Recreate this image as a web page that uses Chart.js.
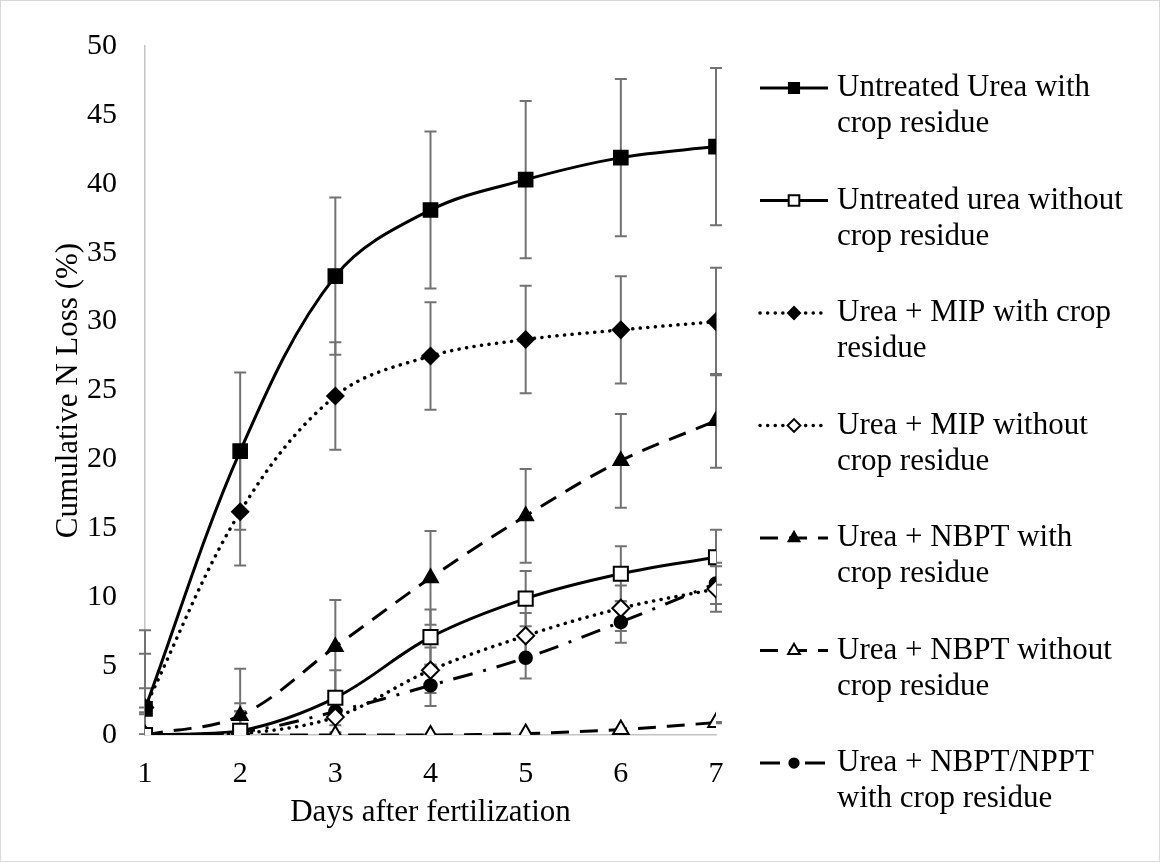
<!DOCTYPE html>
<html>
<head>
<meta charset="utf-8">
<script src="https://cdn.jsdelivr.net/npm/chart.js@4.4.1/dist/chart.umd.min.js"></script>
<style>
  html, body { margin: 0; padding: 0; background: #fff; }
  canvas { display: block; }
</style>
</head>
<body>
<canvas id="chart" width="1160" height="862"></canvas>
<script>
// days after fertilization
const days = [1, 2, 3, 4, 5, 6, 7];
const yTicks = [0, 5, 10, 15, 20, 25, 30, 35, 40, 45, 50];

// cumulative N loss (%)
const untreatedWith = [1.9, 20.6, 33.3, 38.1, 40.3, 41.9, 42.7];
const untreatedWithout = [0, 0.3, 2.7, 7.1, 9.9, 11.7, 12.9];
const mipWith = [2.0, 16.2, 24.6, 27.5, 28.7, 29.4, 30.0];
const mipWithout = [0, 0.1, 1.3, 4.7, 7.2, 9.2, 10.6];
const nbptWith = [0, 1.4, 6.4, 11.4, 15.9, 19.9, 22.8];
const nbptWithout = [0, 0, 0, 0, 0.1, 0.4, 0.9];
const nbptNpptWith = [0, 0.2, 1.7, 3.6, 5.6, 8.2, 11.0];

// error bar half-lengths
const untreatedWithErr = [5.7, 5.7, 5.7, 5.7, 5.7, 5.7, 5.7];
const untreatedWithoutErr = [2.0, 2.0, 2.0, 2.0, 2.0, 2.0, 2.0];
const mipWithErr = [3.9, 3.9, 3.9, 3.9, 3.9, 3.9, 3.9];
const mipWithoutErr = [1.65, 1.65, 1.65, 1.65, 1.65, 1.65, 1.65];
const nbptWithErr = [3.4, 3.4, 3.4, 3.4, 3.4, 3.4, 3.4];
const nbptWithoutErr = [0.05, 0.05, 0.05, 0.05, 0.05, 0.05, 0.05];
const nbptNpptWithErr = [1.5, 1.5, 1.5, 1.5, 1.5, 1.5, 1.5];

const legendLines = [
  ['Untreated Urea with', 'crop residue'],
  ['Untreated urea without', 'crop residue'],
  ['Urea + MIP with crop', 'residue'],
  ['Urea + MIP without', 'crop residue'],
  ['Urea + NBPT with', 'crop residue'],
  ['Urea + NBPT without', 'crop residue'],
  ['Urea + NBPT/NPPT', 'with crop residue']
];

const serif = '"Liberation Serif", "Times New Roman", serif';
const toPoints = vals => days.map((d, i) => ({ x: d, y: vals[i] }));

function series(idx, vals, err, style) {
  return Object.assign({
    label: legendLines[idx].join(' '),
    data: toPoints(vals),
    errors: err,
    borderColor: '#000',
    borderWidth: 3,
    tension: 0.35,
    pointBorderColor: '#000',
    pointBackgroundColor: '#000',
    pointBorderWidth: 1.5
  }, style);
}

const datasets = [
  series(0, untreatedWith, untreatedWithErr, { pointStyle: 'rect', pointRadius: 10 }),
  series(1, untreatedWithout, untreatedWithoutErr, { pointStyle: 'rect', pointRadius: 10, pointBackgroundColor: '#fff', pointBorderWidth: 2 }),
  series(2, mipWith, mipWithErr, { pointStyle: 'rectRot', pointRadius: 8.5, borderDash: [0.1, 7.5], borderCapStyle: 'round', borderWidth: 3.5 }),
  series(3, mipWithout, mipWithoutErr, { pointStyle: 'rectRot', pointRadius: 8.5, pointBackgroundColor: '#fff', pointBorderWidth: 2, borderDash: [0.1, 7.5], borderCapStyle: 'round', borderWidth: 3.5 }),
  series(4, nbptWith, nbptWithErr, { pointStyle: 'triangle', pointRadius: 9, borderDash: [18, 11] }),
  series(5, nbptWithout, nbptWithoutErr, { pointStyle: 'triangle', pointRadius: 9, pointBackgroundColor: '#fff', pointBorderWidth: 2, borderDash: [18, 11] }),
  series(6, nbptNpptWith, nbptNpptWithErr, { pointStyle: 'circle', pointRadius: 6.5, borderDash: [20, 11, 3, 11] })
];
datasets.forEach(d => { d.pointHoverRadius = d.pointRadius; });

// grey error bars, drawn under the lines
const errorBars = {
  id: 'errorBars',
  beforeDatasetsDraw(chart) {
    const { ctx, chartArea, scales: { x, y } } = chart;
    ctx.save();
    ctx.beginPath();
    ctx.rect(chartArea.left - 20, 0, chartArea.width + 40, chartArea.bottom);
    ctx.clip();
    ctx.strokeStyle = '#727272';
    ctx.lineWidth = 2;
    chart.data.datasets.forEach(ds => {
      ds.data.forEach((p, i) => {
        const e = ds.errors[i];
        const px = x.getPixelForValue(p.x);
        const top = y.getPixelForValue(p.y + e);
        const bot = y.getPixelForValue(p.y - e);
        ctx.beginPath();
        ctx.moveTo(px, top); ctx.lineTo(px, bot);
        ctx.moveTo(px - 6, top); ctx.lineTo(px + 6, top);
        ctx.moveTo(px - 6, bot); ctx.lineTo(px + 6, bot);
        ctx.stroke();
      });
    });
    ctx.restore();
  }
};

// two-line legend on the right
const sideLegend = {
  id: 'sideLegend',
  afterDraw(chart) {
    const ctx = chart.ctx;
    ctx.save();
    chart.data.datasets.forEach((ds, i) => {
      const y = 88 + i * 112.5;
      ctx.strokeStyle = '#000';
      ctx.lineWidth = ds.borderWidth;
      ctx.lineCap = ds.borderCapStyle || 'butt';
      ctx.setLineDash(ds.borderDash || []);
      ctx.beginPath();
      ctx.moveTo(760, y);
      ctx.lineTo(828, y);
      ctx.stroke();
      ctx.setLineDash([]);
      ctx.fillStyle = ds.pointBackgroundColor;
      ctx.lineWidth = ds.pointBorderWidth;
      Chart.helpers.drawPoint(ctx, { pointStyle: ds.pointStyle, radius: ds.pointRadius * 0.75, borderWidth: ds.pointBorderWidth, rotation: 0 }, 794, y);
      ctx.fillStyle = '#000';
      ctx.font = '31px ' + serif;
      ctx.textAlign = 'left';
      ctx.textBaseline = 'middle';
      legendLines[i].forEach((t, k) => ctx.fillText(t, 837, y + k * 36));
    });
    // light frame round the picture
    ctx.strokeStyle = '#d9d9d9';
    ctx.lineWidth = 1;
    ctx.strokeRect(0.5, 0.5, 1159, 861);
    ctx.restore();
  }
};

new Chart(document.getElementById('chart'), {
  type: 'line',
  data: { datasets },
  plugins: [errorBars, sideLegend],
  options: {
    responsive: false,
    animation: false,
    layout: { padding: { left: 50, right: 444, top: 40, bottom: 31 } },
    plugins: { legend: { display: false }, tooltip: { enabled: false } },
    scales: {
      x: {
        type: 'linear',
        min: 1,
        max: 7,
        afterBuildTicks: s => { s.ticks = days.map(v => ({ value: v })); },
        afterFit: s => { s.height = 96; },
        grid: { display: false, drawTicks: false },
        border: { display: true, color: '#c4c4c4', width: 1.5 },
        ticks: { padding: 21, color: '#000', font: { family: serif, size: 30 } },
        title: { display: true, text: 'Days after fertilization', color: '#000', padding: 0, font: { family: serif, size: 31 } }
      },
      y: {
        min: 0,
        max: 50,
        afterBuildTicks: s => { s.ticks = yTicks.map(v => ({ value: v })); },
        afterFit: s => { s.width = 95; },
        grid: { display: false, drawTicks: false },
        border: { display: true, color: '#c4c4c4', width: 1.5 },
        ticks: { padding: 28, color: '#000', font: { family: serif, size: 30 } },
        title: { display: true, text: 'Cumulative N Loss (%)', color: '#000', padding: 0, font: { family: serif, size: 31 } }
      }
    }
  }
});
</script>
</body>
</html>
